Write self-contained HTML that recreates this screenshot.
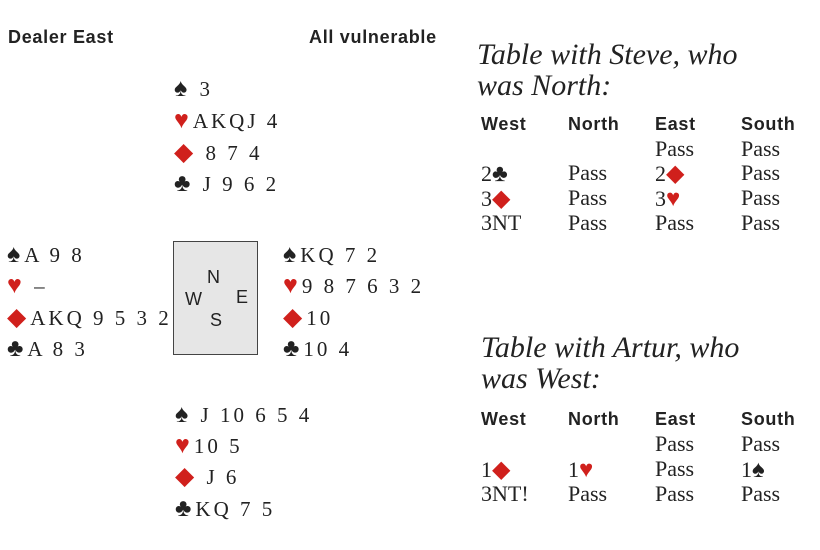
<!DOCTYPE html>
<html><head><meta charset="utf-8"><style>
body{margin:0;width:820px;height:550px;background:#fff;position:relative;overflow:hidden;font-family:"Liberation Serif",serif;color:#222}
.a{position:absolute;white-space:nowrap;line-height:1}
.h{font-family:"Liberation Sans",sans-serif;font-weight:bold;font-size:18px;letter-spacing:0.7px;color:#222}
.c{font-size:21px;letter-spacing:3px}
.r{color:#d0201c}
.s{font-size:25px;letter-spacing:4px}
.t{font-style:italic;font-size:30px}
.p{font-size:22px}
.p span{font-size:24px}
.box{position:absolute;left:173px;top:241px;width:83px;height:112px;border:1.5px solid #444;background:#e6e6e6;font-family:"Liberation Sans",sans-serif;font-size:18px}
</style></head><body>
<div class="a h" style="left:8px;top:28px">Dealer East</div>
<div class="a h" style="left:309px;top:28px">All vulnerable</div>

<div class="a c" style="left:174px;top:76px"><span class="s">♠</span> 3</div>
<div class="a c" style="left:174px;top:108px"><span class="s r">♥</span>AKQJ 4</div>
<div class="a c" style="left:174px;top:140px"><span class="s r">◆</span> 8 7 4</div>
<div class="a c" style="left:174px;top:171px"><span class="s">♣</span> J 9 6 2</div>

<div class="a c" style="left:7px;top:242px"><span class="s">♠</span>A 9 8</div>
<div class="a c" style="left:7px;top:273px"><span class="s r">♥</span> –</div>
<div class="a c" style="left:7px;top:305px"><span class="s r">◆</span>AKQ 9 5 3 2</div>
<div class="a c" style="left:7px;top:336px"><span class="s">♣</span>A 8 3</div>

<div class="box">
<span class="a" style="left:33px;top:26px">N</span>
<span class="a" style="left:11px;top:48px">W</span>
<span class="a" style="left:62px;top:46px">E</span>
<span class="a" style="left:36px;top:69px">S</span>
</div>

<div class="a c" style="left:283px;top:242px"><span class="s">♠</span>KQ 7 2</div>
<div class="a c" style="left:283px;top:273px"><span class="s r">♥</span>9 8 7 6 3 2</div>
<div class="a c" style="left:283px;top:305px"><span class="s r">◆</span>10</div>
<div class="a c" style="left:283px;top:336px"><span class="s">♣</span>10 4</div>

<div class="a c" style="left:175px;top:402px"><span class="s">♠</span> J 10 6 5 4</div>
<div class="a c" style="left:175px;top:433px"><span class="s r">♥</span>10 5</div>
<div class="a c" style="left:175px;top:464px"><span class="s r">◆</span> J 6</div>
<div class="a c" style="left:175px;top:496px"><span class="s">♣</span>KQ 7 5</div>

<div class="a t" style="left:477px;top:40px">Table with Steve, who</div>
<div class="a t" style="left:477px;top:71px">was North:</div>
<div class="a h" style="left:481px;top:115px">West</div>
<div class="a h" style="left:568px;top:115px">North</div>
<div class="a h" style="left:655px;top:115px">East</div>
<div class="a h" style="left:741px;top:115px">South</div>
<div class="a p" style="left:655px;top:138px">Pass</div><div class="a p" style="left:741px;top:138px">Pass</div>
<div class="a p" style="left:481px;top:162px">2<span>♣</span></div><div class="a p" style="left:568px;top:162px">Pass</div><div class="a p" style="left:655px;top:162px">2<span class="r">◆</span></div><div class="a p" style="left:741px;top:162px">Pass</div>
<div class="a p" style="left:481px;top:187px">3<span class="r">◆</span></div><div class="a p" style="left:568px;top:187px">Pass</div><div class="a p" style="left:655px;top:187px">3<span class="r">♥</span></div><div class="a p" style="left:741px;top:187px">Pass</div>
<div class="a p" style="left:481px;top:212px">3NT</div><div class="a p" style="left:568px;top:212px">Pass</div><div class="a p" style="left:655px;top:212px">Pass</div><div class="a p" style="left:741px;top:212px">Pass</div>

<div class="a t" style="left:481px;top:333px">Table with Artur, who</div>
<div class="a t" style="left:481px;top:364px">was West:</div>
<div class="a h" style="left:481px;top:410px">West</div>
<div class="a h" style="left:568px;top:410px">North</div>
<div class="a h" style="left:655px;top:410px">East</div>
<div class="a h" style="left:741px;top:410px">South</div>
<div class="a p" style="left:655px;top:433px">Pass</div><div class="a p" style="left:741px;top:433px">Pass</div>
<div class="a p" style="left:481px;top:458px">1<span class="r">◆</span></div><div class="a p" style="left:568px;top:458px">1<span class="r">♥</span></div><div class="a p" style="left:655px;top:458px">Pass</div><div class="a p" style="left:741px;top:458px">1<span>♠</span></div>
<div class="a p" style="left:481px;top:483px">3NT!</div><div class="a p" style="left:568px;top:483px">Pass</div><div class="a p" style="left:655px;top:483px">Pass</div><div class="a p" style="left:741px;top:483px">Pass</div>
</body></html>
